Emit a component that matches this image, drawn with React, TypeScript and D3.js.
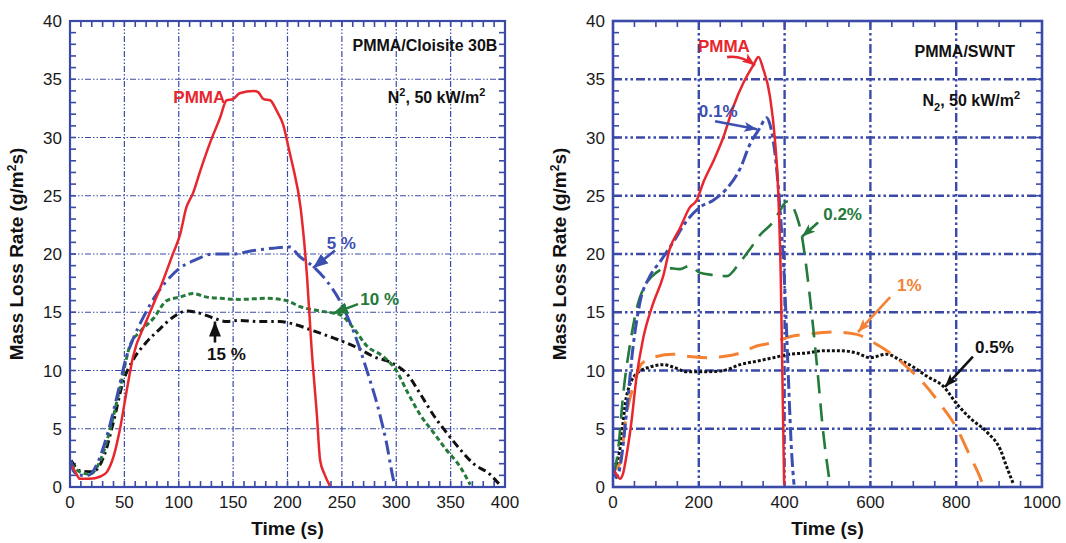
import React from 'react';
import * as d3 from 'd3';

type Pt = [number, number];

// ---- left panel: PMMA / Cloisite 30B ----
const cloisitePMMA: Pt[] = [[2,1.8],[6,1.1],[9,0.7],[18,0.7],[28,0.9],[34,1.3],[40,2.6],[46,5],[52,8.2],[58,11.2],[70,14.2],[83,17.1],[95,20.1],[101,21.6],[107,24],[113,25.2],[120,27.2],[129,29.6],[138,31.7],[144,33.2],[150,33.3],[156,33.8],[169,34.0],[173,33.9],[178,33.3],[184,33.2],[190,32.3],[196,31.1],[202,28.7],[205,27.5],[212,24],[218,18],[222,12.1],[227,6.2],[230,2.3],[234,1.1],[239,0.1]];
const cloisite5: Pt[] = [[1,2.3],[3,1.4],[9,1.0],[17,1.0],[25,2.0],[34,4.4],[43,7.7],[52,11.2],[58,12.7],[67,14.5],[80,16.6],[89,17.7],[101,18.8],[113,19.4],[132,20.0],[150,20.0],[169,20.3],[187,20.5],[202,20.6],[211,19.8],[224,18.9],[236,17.7],[248,16.0],[261,13.3],[273,10.0],[285,6.2],[291,3.8],[297,0.8],[299,0]];
const cloisite10: Pt[] = [[1,2.0],[9,1.3],[18,1.1],[28,2.3],[37,5.0],[46,8.5],[55,12.1],[64,13.3],[77,14.5],[89,16.0],[101,16.3],[113,16.6],[126,16.3],[138,16.2],[156,16.1],[181,16.2],[199,16.0],[211,15.5],[230,15.1],[248,14.8],[261,13.6],[273,12.1],[288,11.2],[300,10.0],[310,8.2],[322,6.2],[334,4.7],[346,3.2],[359,1.7],[368,0.2]];
const cloisite15: Pt[] = [[1,2.3],[9,1.4],[21,1.3],[31,2.6],[40,5.6],[49,9.1],[58,10.9],[70,12.4],[83,13.6],[95,14.6],[107,15.1],[120,14.9],[132,14.5],[144,14.2],[156,14.3],[175,14.2],[193,14.2],[205,14.0],[224,13.4],[242,12.8],[261,12.1],[279,11.2],[297,10.6],[310,9.7],[322,8.0],[334,6.2],[346,4.7],[359,3.2],[371,2.0],[386,1.1],[395,0.2]];

// ---- right panel: PMMA / SWNT ----
const swntPMMA: Pt[] = [[2,1.4],[8,1.1],[16,0.7],[23,1.1],[31,2.6],[43,5.6],[54,9.2],[70,12.7],[93,15.7],[117,18.1],[132,20.4],[156,22.2],[179,24.0],[195,24.6],[210,26.1],[233,27.9],[257,30.0],[280,32.6],[304,34.7],[327,36.2],[339,36.9],[350,35.9],[366,33.5],[377,30.0],[385,25.5],[391,18.1],[395,9.2],[399,0.2]];
const swnt01: Pt[] = [[2,1.7],[8,0.8],[19,2.3],[31,6.2],[47,12.1],[62,15.7],[86,18.1],[109,19.3],[140,21.0],[171,22.8],[202,24.0],[233,24.6],[265,25.6],[296,27.3],[319,29.4],[342,30.8],[358,31.7],[366,31.1],[377,28.8],[389,24.0],[401,16.6],[409,9.2],[416,3.2],[422,0.2]];
const swnt02: Pt[] = [[2,1.1],[12,3.2],[23,7.7],[39,12.1],[58,15.7],[78,17.5],[101,18.4],[125,18.8],[156,18.7],[179,19.0],[202,18.4],[233,18.2],[265,18.1],[296,19.3],[319,20.4],[342,21.6],[374,22.8],[389,23.7],[405,24.5],[420,24.0],[432,22.8],[440,21.6],[447,19.9],[459,16.3],[475,10.6],[490,4.7],[506,0.2]];
const swnt1: Pt[] = [[2,1.4],[16,2.0],[31,6.2],[47,8.6],[62,10.3],[78,10.9],[101,11.2],[140,11.4],[179,11.2],[218,11.1],[257,11.2],[296,11.5],[335,12.1],[374,12.4],[412,12.9],[451,13.1],[514,13.3],[568,13.1],[607,12.4],[646,11.5],[685,10.3],[724,8.9],[763,7.1],[802,5.0],[833,2.6],[856,0.8],[864,0]];
const swnt05: Pt[] = [[2,1.1],[16,3.2],[31,7.7],[54,9.7],[86,10.3],[117,10.5],[140,10.3],[171,9.9],[218,9.9],[257,10.0],[296,10.5],[335,10.8],[374,11.1],[412,11.4],[451,11.5],[490,11.7],[529,11.7],[568,11.5],[599,11.1],[638,11.4],[669,10.9],[700,10.3],[732,9.5],[771,8.6],[802,7.1],[833,5.9],[872,4.7],[903,3.2],[918,1.7],[934,0.2]];

const yTicks = [0, 5, 10, 15, 20, 25, 30, 35, 40];
const leftXTicks = [0, 50, 100, 150, 200, 250, 300, 350, 400];
const rightXTicks = [0, 200, 400, 600, 800, 1000];

// labels / arrows in data units
const leftLabels = [
  { text: 'PMMA', t: 95, v: 33.0, color: '#e8262e', anchor: 'start' },
  { text: '5 %', t: 236, v: 20.4, color: '#3c4fb0', anchor: 'start' },
  { text: '10 %', t: 267, v: 15.6, color: '#237a3a', anchor: 'start' },
  { text: '15 %', t: 126, v: 10.9, color: '#111', anchor: 'start' },
];
const leftArrows = [
  { from: [243.7, 20.3], to: [223.4, 18.8], color: '#3c4fb0' },
  { from: [264.8, 15.7], to: [241.8, 14.9], color: '#237a3a' },
  { from: [133.3, 12.4], to: [133.3, 14.2], color: '#111' },
];
const rightLabels = [
  { text: 'PMMA', t: 198, v: 37.3, color: '#e8262e', anchor: 'start' },
  { text: '0.1%', t: 200, v: 31.8, color: '#3c4fb0', anchor: 'start' },
  { text: '0.2%', t: 490, v: 22.9, color: '#237a3a', anchor: 'start' },
  { text: '1%', t: 662, v: 16.8, color: '#f58232', anchor: 'start' },
  { text: '0.5%', t: 844, v: 11.5, color: '#111', anchor: 'start' },
];
const rightArrows = [
  { from: [266, 36.9], to: [331, 36.2], color: '#e8262e', bend: 1.2 },
  { from: [238, 31.4], to: [336, 30.7], color: '#3c4fb0' },
  { from: [478, 22.7], to: [441, 21.5], color: '#237a3a' },
  { from: [646, 16.3], to: [571, 13.3], color: '#f58232' },
  { from: [839, 11.2], to: [774, 8.6], color: '#111' },
];

const FONT = 'Arial, "Liberation Sans", Helvetica, sans-serif';
const FRAME = '#3b4aa8';
const TOP = 21;
const BOTTOM = 487;

type Series = { data: Pt[]; color: string; width: number; dash?: string; cap?: string };

function Panel(props: {
  id: string;
  left: number;
  right: number;
  xMax: number;
  xTicks: number[];
  xMinor: number;
  gridWidth: number;
  gridDash: string;
  frameWidth: number;
  series: Series[];
  labels: any[];
  arrows: any[];
  title: string;
  subtitle: React.ReactNode;
  titleT: number;
  titleV: number;
  subT: number;
  subV: number;
  headLen: number;
  headWid: number;
  notch: number;
}) {
  const x = d3.scaleLinear().domain([0, props.xMax]).range([props.left, props.right]);
  const y = d3.scaleLinear().domain([0, 40]).range([BOTTOM, TOP]);
  const line = d3
    .line<Pt>()
    .x((d) => x(d[0]))
    .y((d) => y(d[1]))
    .curve(d3.curveMonotoneX);

  const xMinorTicks = d3.range(0, props.xMax + 0.001, props.xMinor);
  const yMinorTicks = d3.range(0, 41, 1);
  const tl = 6;
  const clipId = 'clip-' + props.id;
  const hl = props.headLen;
  const hw = props.headWid;

  return (
    <g>
      <defs>
        <clipPath id={clipId}>
          <rect x={props.left} y={TOP} width={props.right - props.left} height={BOTTOM - TOP} />
        </clipPath>
        {props.arrows.map((a, i) => (
          <marker
            key={i}
            id={props.id + '-head-' + i}
            markerUnits="userSpaceOnUse"
            markerWidth={hl + 2}
            markerHeight={hw}
            refX={hl}
            refY={hw / 2}
            orient="auto"
          >
            <path d={`M0,0 L${hl},${hw / 2} L0,${hw} L${props.notch},${hw / 2} z`} fill={a.color} />
          </marker>
        ))}
      </defs>

      {/* grid */}
      <g stroke={FRAME} strokeWidth={props.gridWidth} strokeDasharray={props.gridDash} fill="none">
        {props.xTicks.slice(1, -1).map((t) => (
          <line key={'gx' + t} x1={x(t)} x2={x(t)} y1={TOP} y2={BOTTOM} />
        ))}
        {yTicks.slice(1, -1).map((v) => (
          <line key={'gy' + v} x1={props.left} x2={props.right} y1={y(v)} y2={y(v)} />
        ))}
      </g>

      {/* inward ticks */}
      <g stroke={FRAME} strokeWidth={1.6}>
        {xMinorTicks.map((t) => (
          <g key={'tx' + t}>
            <line x1={x(t)} x2={x(t)} y1={BOTTOM} y2={BOTTOM - tl} />
            <line x1={x(t)} x2={x(t)} y1={TOP} y2={TOP + tl} />
          </g>
        ))}
        {yMinorTicks.map((v) => (
          <g key={'ty' + v}>
            <line x1={props.left} x2={props.left + tl} y1={y(v)} y2={y(v)} />
            <line x1={props.right} x2={props.right - tl} y1={y(v)} y2={y(v)} />
          </g>
        ))}
      </g>

      {/* series */}
      <g clipPath={`url(#${clipId})`} fill="none">
        {props.series.map((s, i) => (
          <path
            key={i}
            d={line(s.data) || ''}
            stroke={s.color}
            strokeWidth={s.width}
            strokeDasharray={s.dash}
            strokeLinecap={(s.cap as any) || 'butt'}
            strokeLinejoin="round"
          />
        ))}
      </g>

      <rect
        x={props.left}
        y={TOP}
        width={props.right - props.left}
        height={BOTTOM - TOP}
        fill="none"
        stroke={FRAME}
        strokeWidth={props.frameWidth}
      />

      {/* tick labels */}
      <g fontFamily={FONT} fontSize={17} fill="#1a1a1a">
        {yTicks.map((v) => (
          <text key={'ly' + v} x={props.left - 8} y={y(v) + 6} textAnchor="end">
            {v}
          </text>
        ))}
        {props.xTicks.map((t) => (
          <text key={'lx' + t} x={x(t)} y={BOTTOM + 21} textAnchor="middle">
            {t}
          </text>
        ))}
      </g>

      {/* axis titles */}
      <text
        x={(props.left + props.right) / 2}
        y={535}
        textAnchor="middle"
        fontFamily={FONT}
        fontWeight="bold"
        fontSize={19}
        fill="#111"
      >
        Time (s)
      </text>
      <text
        transform={`translate(${props.left - 47},${(TOP + BOTTOM) / 2}) rotate(-90)`}
        textAnchor="middle"
        fontFamily={FONT}
        fontWeight="bold"
        fontSize={19}
        fill="#111"
      >
        Mass Loss Rate (g/m
        <tspan fontSize={12} dy={-7}>
          2
        </tspan>
        <tspan dy={7}>s)</tspan>
      </text>

      {/* panel titles */}
      <g fontFamily={FONT} fontWeight="bold" fontSize={16} fill="#111">
        <text x={x(props.titleT)} y={y(props.titleV)} textAnchor="end">
          {props.title}
        </text>
        <text x={x(props.subT)} y={y(props.subV)} textAnchor="end">
          {props.subtitle}
        </text>
      </g>

      {/* annotations */}
      <g fontFamily={FONT} fontWeight="bold" fontSize={17}>
        {props.labels.map((l, i) => (
          <text key={i} x={x(l.t)} y={y(l.v)} fill={l.color} textAnchor={l.anchor}>
            {l.text}
          </text>
        ))}
      </g>
      <g fill="none">
        {props.arrows.map((a, i) => {
          const x1 = x(a.from[0]);
          const y1 = y(a.from[1]);
          const x2 = x(a.to[0]);
          const y2 = y(a.to[1]);
          let d = `M${x1},${y1} L${x2},${y2}`;
          if (a.bend) {
            const mx = (x1 + x2) / 2;
            const my = (y1 + y2) / 2 - 5 * a.bend;
            d = `M${x1},${y1} Q${mx},${my} ${x2},${y2}`;
          }
          return (
            <path
              key={i}
              d={d}
              stroke={a.color}
              strokeWidth={2.6}
              markerEnd={`url(#${props.id}-head-${i})`}
            />
          );
        })}
      </g>
    </g>
  );
}

export default function App() {
  const leftSeries: Series[] = [
    { data: cloisite15, color: '#111', width: 3, dash: '8,4,2.5,4' },
    { data: cloisite10, color: '#237a3a', width: 3, dash: '5,3' },
    { data: cloisite5, color: '#3c4fb0', width: 3, dash: '14,5,3,5' },
    { data: cloisitePMMA, color: '#e8262e', width: 2.5 },
  ];
  const rightSeries: Series[] = [
    { data: swnt05, color: '#111', width: 3, dash: '3,2' },
    { data: swnt1, color: '#f58232', width: 3, dash: '20,12' },
    { data: swnt02, color: '#237a3a', width: 2.6, dash: '18,10' },
    { data: swnt01, color: '#3c4fb0', width: 3, dash: '14,4,4,4' },
    { data: swntPMMA, color: '#e8262e', width: 2.5 },
  ];
  return (
    <svg
      width={1066}
      height={543}
      viewBox="0 0 1066 543"
      style={{ position: 'absolute', left: 0, top: 0, background: '#fff' }}
    >
      <Panel
        id="l"
        left={70}
        right={505}
        xMax={400}
        xTicks={leftXTicks}
        xMinor={10}
        gridWidth={1.2}
        gridDash="6,2,1.5,2,1.5,2"
        frameWidth={2.2}
        series={leftSeries}
        labels={leftLabels}
        arrows={leftArrows}
        title="PMMA/Cloisite 30B"
        titleT={393}
        titleV={37.4}
        subtitle={
          <>
            N<tspan fontSize={11} dy={-7}>2</tspan>
            <tspan dy={7}>, 50 kW/m</tspan>
            <tspan fontSize={11} dy={-7}>2</tspan>
          </>
        }
        subT={382}
        subV={33.0}
        headLen={15}
        headWid={12}
        notch={0}
      />
      <Panel
        id="r"
        left={613}
        right={1042}
        xMax={1000}
        xTicks={rightXTicks}
        xMinor={50}
        gridWidth={2.4}
        gridDash="9,3,2.5,3,2.5,3"
        frameWidth={2.6}
        series={rightSeries}
        labels={rightLabels}
        arrows={rightArrows}
        title="PMMA/SWNT"
        titleT={937}
        titleV={36.9}
        subtitle={
          <>
            N<tspan fontSize={11} dy={5}>2</tspan>
            <tspan dy={-5}>, 50 kW/m</tspan>
            <tspan fontSize={11} dy={-7}>2</tspan>
          </>
        }
        subT={949}
        subV={32.7}
        headLen={13}
        headWid={10}
        notch={3}
      />
    </svg>
  );
}
